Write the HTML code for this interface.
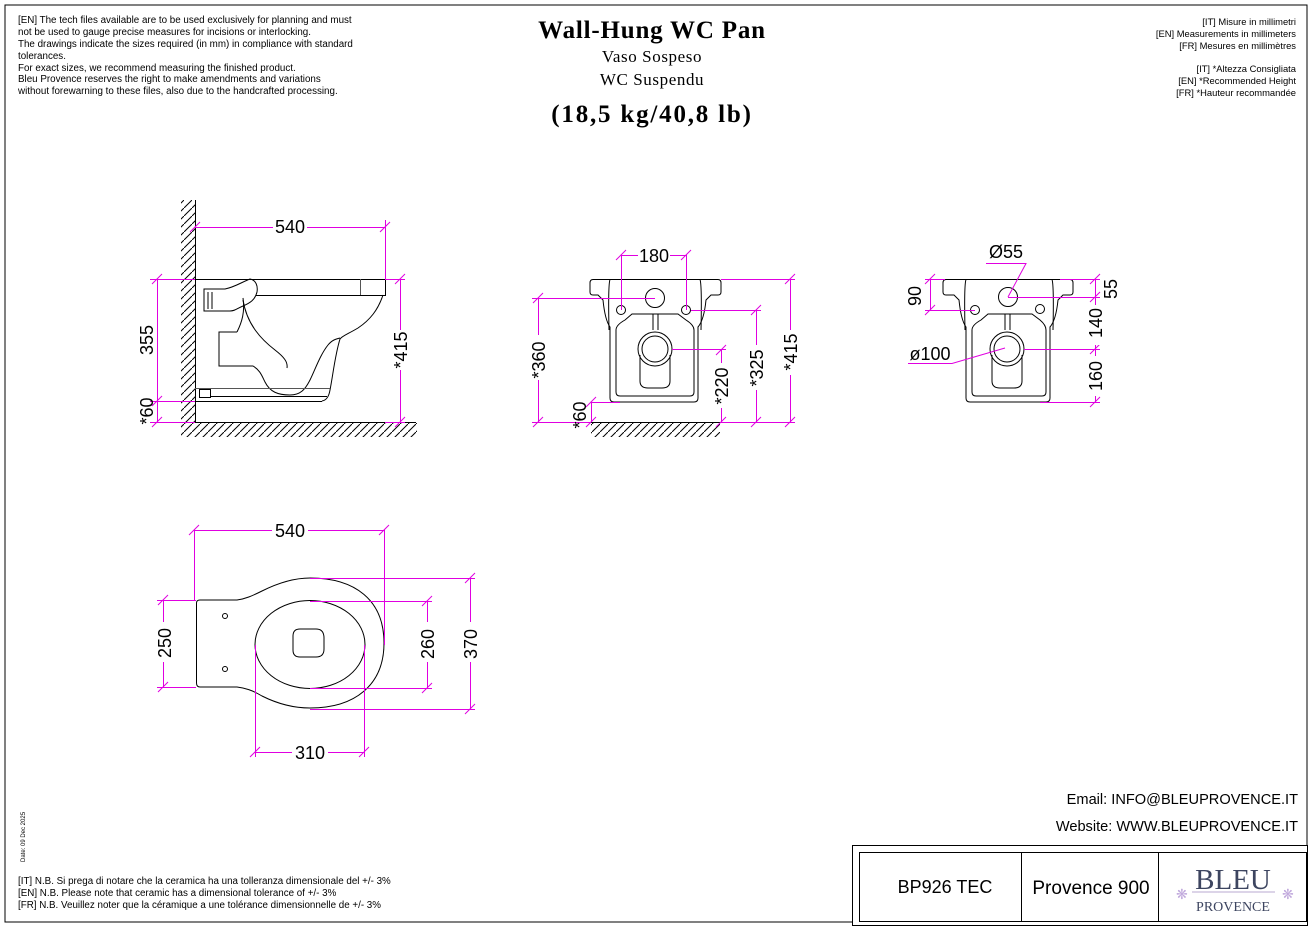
<!DOCTYPE html>
<html><head><meta charset="utf-8"><style>
html,body{margin:0;padding:0;background:#fff;}
svg{display:block}
.t{font-family:"Liberation Sans",sans-serif;fill:#000}
.s{font-family:"Liberation Serif",serif;fill:#000}
.d{stroke:#e000e0;stroke-width:1;fill:none}
.k{stroke:#000;stroke-width:1;fill:none}
.g{stroke:#555;stroke-width:1;fill:none}
</style></head><body>
<svg width="1313" height="928" viewBox="0 0 1313 928" xmlns="http://www.w3.org/2000/svg">
<defs>
<path id="tk" d="M-5,5 L5,-5" stroke="#e000e0" stroke-width="1"/>
<pattern id="hv" width="8" height="8" patternUnits="userSpaceOnUse"><path d="M0,8 L8,0" stroke="#000" stroke-width="1"/></pattern>
</defs>
<!-- frame -->
<path d="M852,922 L5,922 L5,5 L1307,5 L1307,846" class="k"/>
<rect x="852.5" y="845.5" width="455" height="80" class="k"/>
<rect x="859.5" y="852.5" width="447" height="69" class="k"/>
<line x1="1021.5" y1="852" x2="1021.5" y2="922" class="k"/>
<line x1="1158.5" y1="852" x2="1158.5" y2="922" class="k"/>
<text class="t" x="945" y="893" font-size="18" text-anchor="middle">BP926 TEC</text>
<text class="t" x="1091" y="894" font-size="19" text-anchor="middle">Provence 900</text>
<text class="s" x="1233" y="889" font-size="29" text-anchor="middle" style="fill:#3d4560">BLEU</text>
<line x1="1192" y1="892" x2="1275" y2="892" stroke="#b9a8d0"/>
<text class="s" x="1233" y="911" font-size="14" text-anchor="middle" style="fill:#3d4560">PROVENCE</text>
<text x="1176" y="899" font-size="14" style="fill:#c0a8dc" font-family="DejaVu Sans">❋</text>
<text x="1282" y="899" font-size="14" style="fill:#c0a8dc" font-family="DejaVu Sans">❋</text>

<!-- top texts -->
<g class="t" font-size="9.8">
<text x="18" y="23">[EN] The tech files available are to be used exclusively for planning and must</text>
<text x="18" y="35">not be used to gauge precise measures for incisions or interlocking.</text>
<text x="18" y="47">The drawings indicate the sizes required (in mm) in compliance with standard</text>
<text x="18" y="59">tolerances.</text>
<text x="18" y="71">For exact sizes, we recommend measuring the finished product.</text>
<text x="18" y="82">Bleu Provence reserves the right to make amendments and variations</text>
<text x="18" y="94">without forewarning to these files, also due to the handcrafted processing.</text>
</g>
<g class="t" font-size="9.4" text-anchor="end">
<text x="1296" y="25">[IT] Misure in millimetri</text>
<text x="1296" y="37">[EN] Measurements in millimeters</text>
<text x="1296" y="49">[FR] Mesures en millimètres</text>
<text x="1296" y="72">[IT] *Altezza Consigliata</text>
<text x="1296" y="84">[EN] *Recommended Height</text>
<text x="1296" y="96">[FR] *Hauteur recommandée</text>
</g>
<text class="s" x="652" y="38" font-size="25" font-weight="bold" letter-spacing="0.8" text-anchor="middle">Wall-Hung WC Pan</text>
<text class="s" x="652" y="62" font-size="17" letter-spacing="0.6" text-anchor="middle">Vaso Sospeso</text>
<text class="s" x="652" y="85" font-size="17" letter-spacing="0.6" text-anchor="middle">WC Suspendu</text>
<text class="s" x="652" y="122" font-size="25" font-weight="bold" letter-spacing="1.8" text-anchor="middle">(18,5 kg/40,8 lb)</text>

<g class="t" font-size="9.8">
<text x="18" y="884">[IT] N.B. Si prega di notare che la ceramica ha una tolleranza dimensionale del +/- 3%</text>
<text x="18" y="896">[EN] N.B. Please note that ceramic has a dimensional tolerance of +/- 3%</text>
<text x="18" y="908">[FR] N.B. Veuillez noter que la céramique a une tolérance dimensionnelle de +/- 3%</text>
</g>
<text class="t" font-size="6" transform="translate(25,862) rotate(-90)">Date: 09 Dec 2025</text>
<text class="t" x="1298" y="804" font-size="14.6" text-anchor="end">Email: INFO@BLEUPROVENCE.IT</text>
<text class="t" x="1298" y="831" font-size="14.6" text-anchor="end">Website: WWW.BLEUPROVENCE.IT</text>

<!-- ============ SIDE VIEW ============ -->
<rect x="181" y="200" width="14" height="222" fill="url(#hv)"/>
<rect x="181" y="423" width="236" height="14" fill="url(#hv)"/>
<line x1="195.5" y1="200" x2="195.5" y2="423" class="k" stroke-width="1.3"/>
<line x1="195" y1="422.5" x2="416" y2="422.5" class="k" stroke-width="1.3"/>
<path d="M195,279.5 H385.5 V295.5 H256" class="k"/>
<line x1="360.5" y1="279" x2="360.5" y2="295" class="g"/>
<!-- handle -->
<path d="M204,289 H225 C235,287 242,282 250,279 C256,280 258,286 257,292 C255,300 250,303 243,306 C236,309 235,311 230,311 H204 Z" class="k"/>
<line x1="208" y1="292" x2="208" y2="309" class="k"/><line x1="212" y1="292" x2="212" y2="309" class="k"/>
<!-- inner S -->
<path d="M243,298 C245,312 242,322 237,332" class="k"/>
<path d="M243,300 C247,325 262,340 275,350 C284,357 288,362 287,368" class="k"/>
<!-- trap rect -->
<path d="M237,332 H219 V366 H253 C260,370 262,376 265,382 C270,392 278,395 290,395 C300,395 305,390 310,380 C315,370 320,355 328,345 C332,340 336,339 340,338" class="k"/>
<!-- outer -->
<path d="M383,295 C378,310 370,320 358,328 C348,334 342,336 340,339 C335,355 333,375 330,390 C329,396 327,400 322,401" class="k"/>
<path d="M195,388.5 H330" class="g"/>
<path d="M211,396.5 H327" class="k"/>
<path d="M195,401.5 H322" class="k"/>
<rect x="199.5" y="389.5" width="11" height="8" class="k"/>
<!-- side dims -->
<path d="M195,227.5 H385.5 M385.5,220 V279" class="d"/>
<use href="#tk" x="195" y="227"/><use href="#tk" x="385" y="227"/>
<rect x="273" y="217" width="34" height="20" fill="#fff"/>
<text class="t" x="290" y="233" font-size="18" text-anchor="middle">540</text>
<path d="M157.5,279 V422 M150,279.5 H195 M150,401.5 H195 M150,422.5 H195" class="d"/>
<use href="#tk" x="157" y="279"/><use href="#tk" x="157" y="401"/><use href="#tk" x="157" y="422"/>
<text class="t" font-size="18" text-anchor="middle" transform="translate(153,340) rotate(-90)">355</text>
<text class="t" font-size="18" text-anchor="middle" transform="translate(153,411) rotate(-90)">*60</text>
<path d="M400.5,279 V422 M385,279.5 H405 M385,422.5 H405" class="d"/>
<use href="#tk" x="400" y="279"/><use href="#tk" x="400" y="422"/>
<rect x="390" y="330" width="20" height="40" fill="#fff"/>
<text class="t" font-size="18" text-anchor="middle" transform="translate(407,350) rotate(-90)">*415</text>

<!-- ============ FRONT VIEW ============ -->
<rect x="591" y="423" width="129" height="14" fill="url(#hv)"/>
<line x1="591" y1="422.5" x2="720" y2="422.5" class="k" stroke-width="1.3"/>
<path d="M593,279.5 H718 Q721,279.5 721,283 V292 Q721,295 718,295 H711 L706,300 Q704,320 698,327 V398 Q698,402 694,402 H614 Q610,402 610,398 V327 Q605,320 603,300 L598,295 H593 Q590,295 590,292 V283 Q590,279.5 593,279.5 Z" class="k"/>
<path d="M610,279.5 Q608,285 609,330" class="k"/><path d="M700,279.5 Q702,285 701,330" class="k"/>
<path d="M616,392 V330 Q616,325 625,320 L632,314 H678 L686,320 Q694,325 694,330 V392 Q694,396 690,396 H620 Q616,396 616,392 Z" class="k"/>
<line x1="653" y1="314" x2="653" y2="330" class="k"/><line x1="658" y1="314" x2="658" y2="330" class="k"/>
<circle cx="655" cy="298" r="9.5" class="k"/>
<circle cx="621" cy="310" r="4.5" class="k"/><circle cx="686" cy="310" r="4.5" class="k"/>
<circle cx="655" cy="349" r="17" class="k"/><circle cx="655" cy="349" r="13" class="k"/>
<path d="M640,355 V381 Q640,388 648,388 H662 Q670,388 670,381 V355" class="k"/>
<!-- front dims -->
<path d="M621.5,255 V310 M686.5,255 V310 M621,255.5 H686" class="d"/>
<use href="#tk" x="621" y="255"/><use href="#tk" x="686" y="255"/>
<rect x="638" y="245" width="32" height="20" fill="#fff"/>
<text class="t" x="654" y="262" font-size="18" text-anchor="middle">180</text>
<path d="M538.5,298 V422 M532,298.5 H655 M532,422.5 H591" class="d"/>
<use href="#tk" x="538" y="298"/><use href="#tk" x="538" y="422"/>
<rect x="528" y="335" width="20" height="45" fill="#fff"/>
<text class="t" font-size="18" text-anchor="middle" transform="translate(545,360) rotate(-90)">*360</text>
<path d="M591.5,402 V422 M591,402.5 H620" class="d"/>
<use href="#tk" x="591" y="402"/><use href="#tk" x="591" y="422"/>
<text class="t" font-size="18" text-anchor="middle" transform="translate(586,415) rotate(-90)">*60</text>
<path d="M721.5,350 V422 M672,349.5 H726" class="d"/>
<use href="#tk" x="721" y="350"/><use href="#tk" x="721" y="422"/>
<rect x="712" y="363" width="20" height="45" fill="#fff"/>
<text class="t" font-size="18" text-anchor="middle" transform="translate(728,386) rotate(-90)">*220</text>
<path d="M756.5,310 V422 M691,310.5 H761 M720,422.5 H795" class="d"/>
<use href="#tk" x="756" y="310"/><use href="#tk" x="756" y="422"/>
<rect x="747" y="345" width="20" height="45" fill="#fff"/>
<text class="t" font-size="18" text-anchor="middle" transform="translate(763,368) rotate(-90)">*325</text>
<path d="M790.5,279 V422 M721,279.5 H795" class="d"/>
<use href="#tk" x="790" y="279"/><use href="#tk" x="790" y="422"/>
<rect x="781" y="330" width="20" height="45" fill="#fff"/>
<text class="t" font-size="18" text-anchor="middle" transform="translate(797,352) rotate(-90)">*415</text>

<!-- ============ BACK VIEW ============ -->
<path d="M946,279.5 H1070 Q1073,279.5 1073,283 V292 Q1073,295 1070,295 H1063 L1058,300 Q1056,320 1050,327 V398 Q1050,402 1046,402 H970 Q966,402 966,398 V327 Q961,320 959,300 L954,295 H946 Q943,295 943,292 V283 Q943,279.5 946,279.5 Z" class="k"/>
<path d="M966,279.5 Q964,285 965,330" class="k"/><path d="M1052,279.5 Q1054,285 1053,330" class="k"/>
<path d="M972,392 V330 Q972,325 981,320 L988,314 H1032 L1040,320 Q1046,325 1046,330 V392 Q1046,396 1042,396 H976 Q972,396 972,392 Z" class="k"/>
<line x1="1005" y1="314" x2="1005" y2="330" class="k"/><line x1="1010" y1="314" x2="1010" y2="330" class="k"/>
<circle cx="1008" cy="297" r="9.5" class="k"/>
<circle cx="975" cy="310" r="4.5" class="k"/><circle cx="1040" cy="309" r="4.5" class="k"/>
<circle cx="1007" cy="349" r="17" class="k"/><circle cx="1007" cy="349" r="13" class="k"/>
<path d="M992,355 V381 Q992,388 1000,388 H1014 Q1022,388 1022,381 V355" class="k"/>
<path d="M930.5,279 V310 M925,279.5 H945 M925,310.5 H975" class="d"/>
<use href="#tk" x="930" y="279"/><use href="#tk" x="930" y="310"/>
<text class="t" font-size="18" text-anchor="middle" transform="translate(921,296) rotate(-90)">90</text>
<path d="M1095.5,279 V402 M1060,279.5 H1100 M1008,297.5 H1100 M1024,349.5 H1100 M1040,402.5 H1100" class="d"/>
<use href="#tk" x="1095" y="279"/><use href="#tk" x="1095" y="297"/><use href="#tk" x="1095" y="349"/><use href="#tk" x="1095" y="402"/>
<text class="t" font-size="18" text-anchor="middle" transform="translate(1117,289) rotate(-90)">55</text>
<rect x="1086" y="305" width="20" height="40" fill="#fff"/>
<text class="t" font-size="18" text-anchor="middle" transform="translate(1102,323) rotate(-90)">140</text>
<rect x="1086" y="356" width="20" height="40" fill="#fff"/>
<text class="t" font-size="18" text-anchor="middle" transform="translate(1102,376) rotate(-90)">160</text>
<path d="M986,263.5 H1026 L1008,297" class="d"/>
<text class="t" x="1006" y="258" font-size="18" text-anchor="middle">Ø55</text>
<path d="M908,363.5 H952 L1005,348" class="d"/>
<text class="t" x="930" y="360" font-size="18" text-anchor="middle">ø100</text>

<!-- ============ PLAN VIEW ============ -->
<path d="M196.5,603 V683 Q196.5,687 200,687 H237 C245,688 252,690 262,696 C280,705 295,708 310,708 C355,708 384,685 384,643 C384,600 355,578 310,578 C295,578 280,582 262,591 C252,596 245,599 237,600 H200 Q196.5,600 196.5,603 Z" class="k"/>
<ellipse cx="310" cy="644.5" rx="55" ry="44" class="k"/>
<path d="M293,636 Q293,629 300,629 H316 Q324,629 324,638 V649 Q324,657 316,657 H300 Q293,657 293,650 Z" class="k"/>
<circle cx="225" cy="616" r="2.5" class="k"/><circle cx="225" cy="669" r="2.5" class="k"/>
<path d="M194.5,530 V600 M384.5,530 V645 M194,530.5 H385" class="d"/>
<use href="#tk" x="194" y="530"/><use href="#tk" x="384" y="530"/>
<rect x="272" y="520" width="36" height="20" fill="#fff"/>
<text class="t" x="290" y="537" font-size="18" text-anchor="middle">540</text>
<path d="M163.5,600 V687 M157,600.5 H196 M157,687.5 H196" class="d"/>
<use href="#tk" x="163" y="600"/><use href="#tk" x="163" y="687"/>
<rect x="154" y="622" width="20" height="40" fill="#fff"/>
<text class="t" font-size="18" text-anchor="middle" transform="translate(171,643) rotate(-90)">250</text>
<path d="M427.5,601 V688 M310,601.5 H432 M310,688.5 H432" class="d"/>
<use href="#tk" x="427" y="601"/><use href="#tk" x="427" y="688"/>
<rect x="418" y="622" width="20" height="40" fill="#fff"/>
<text class="t" font-size="18" text-anchor="middle" transform="translate(434,644) rotate(-90)">260</text>
<path d="M470.5,578 V709 M310,578.5 H475 M310,709.5 H475" class="d"/>
<use href="#tk" x="470" y="578"/><use href="#tk" x="470" y="709"/>
<rect x="461" y="622" width="20" height="40" fill="#fff"/>
<text class="t" font-size="18" text-anchor="middle" transform="translate(477,644) rotate(-90)">370</text>
<path d="M255.5,645 V757 M364.5,645 V757 M255,752.5 H365" class="d"/>
<use href="#tk" x="255" y="752"/><use href="#tk" x="364" y="752"/>
<rect x="292" y="742" width="36" height="20" fill="#fff"/>
<text class="t" x="310" y="759" font-size="18" text-anchor="middle">310</text>
</svg>
</body></html>
